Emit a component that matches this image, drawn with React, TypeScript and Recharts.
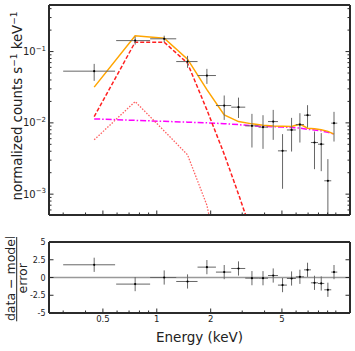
import React from 'react';
import { ComposedChart, Line, Scatter, XAxis, YAxis, ErrorBar, ReferenceLine, Label } from 'recharts';

// spectrum bins (keV)
const energy = [0.447, 0.757, 1.1, 1.485, 1.905, 2.38, 2.86, 3.4, 3.92, 4.47, 5.04, 5.66, 6.3, 6.95, 7.6, 8.29, 9.03, 9.77];
const energyLo = [0.3, 0.593, 0.918, 1.284, 1.689, 2.14, 2.605, 3.12, 3.7, 4.18, 4.75, 5.33, 5.98, 6.64, 7.26, 7.95, 8.62, 9.43];
const energyHi = [0.585, 0.918, 1.284, 1.689, 2.14, 2.605, 3.12, 3.7, 4.18, 4.75, 5.33, 5.98, 6.64, 7.26, 7.95, 8.62, 9.43, 10.19];

// observed counts s^-1 keV^-1
const counts = [0.0531, 0.1425, 0.151, 0.0724, 0.0461, 0.0175, 0.0166, 0.00908, 0.00871, 0.01042, 0.00405, 0.00795, 0.00946, 0.0128, 0.0053, 0.00502, 0.00154, 0.0099];
const countsLo = [0.0388, 0.125, 0.136, 0.0591, 0.0352, 0.011, 0.0117, 0.00451, 0.00432, 0.00578, 0.00119, 0.00396, 0.0053, 0.00859, 0.00224, 0.0021, 0.00052, 0.00547];
const countsHi = [0.0672, 0.162, 0.167, 0.0871, 0.0572, 0.0242, 0.0226, 0.01337, 0.0128, 0.0152, 0.00695, 0.01175, 0.01367, 0.0177, 0.00757, 0.00718, 0.0031, 0.01427];

// model curves
const modelTotal = [0.0317, 0.166, 0.154, 0.0782, 0.0292, 0.01294, 0.01042, 0.00968, 0.00923, 0.00902, 0.00893, 0.00887, 0.00959, 0.00843, 0.00824, 0.00798, 0.0076, 0.00695];
const modelHot = [0.01225, 0.1355, 0.1355, 0.0687, 0.0152, 0.00364, 0.001, 0.00028, 0.00008, 0.00002];
const modelCool = [0.00578, 0.0199, 0.0077, 0.00356, 0.0007, 0.00005, 0.000005];
const modelPow = [0.01137, 0.01084, 0.0105, 0.01023, 0.01, 0.00975, 0.00944, 0.0091, 0.00896, 0.00881, 0.00873, 0.00859, 0.00846, 0.00813, 0.00792, 0.00772, 0.00736, 0.00695];

// (data - model) / error
const residual = [1.79, -0.93, 0.0, -0.56, 1.46, 0.76, 1.27, -0.09, -0.1, 0.28, -1.07, -0.14, 0.1, 1.08, -0.75, -0.84, -1.73, 0.76];

const xTicks = [0.3, 0.4, 0.5, 0.6, 0.7, 0.8, 0.9, 1, 2, 3, 4, 5, 6, 7, 8, 9, 10];
const xMajor = [0.5, 1, 2, 5];
const yTicks = [0.0006, 0.0007, 0.0008, 0.0009, 0.001, 0.002, 0.003, 0.004, 0.005, 0.006, 0.007, 0.008, 0.009,
  0.01, 0.02, 0.03, 0.04, 0.05, 0.06, 0.07, 0.08, 0.09, 0.1, 0.2, 0.3, 0.4];
const yMajor = [0.001, 0.01, 0.1];
const resTicks = [-5, -2.5, 0, 2.5, 5];
const resLabels = ['-5', '-2.5', '0', '2.5', '5'];

const X_DOMAIN = [0.25, 12];
const Y_DOMAIN = [0.00051, 0.45];
const FONT = '"DejaVu Sans", sans-serif';
const FRAME = '#2b2b2b';
const INK = '#222';

const isIn = (list: number[], v: number) => list.some(m => Math.abs(m - v) / Math.abs(m || 1) < 1e-6);

const specData = energy.map((e, i) => ({
    e,
    v: counts[i],
    ex: [e - energyLo[i], energyHi[i] - e],
    ey: [counts[i] - countsLo[i], countsHi[i] - counts[i]],
}));
const resData = energy.map((e, i) => ({ e, v: residual[i], ex: [e - energyLo[i], energyHi[i] - e], ey: 1 }));
const curve = (vals: number[]) => vals.map((v, i) => ({ e: energy[i], v }));

type Side = 'left' | 'right' | 'top' | 'bottom';

// axes get tickSize 0 so (x, y) is the spine point; ticks are drawn inward here
function tickRenderer(side: Side, major: (v: number) => boolean, label?: (v: number, x: number, y: number) => React.ReactNode) {
    return (props: any) => {
        const { x, y, payload } = props;
        const v = payload.value;
        const len = major(v) ? 4.5 : 2.5;
        let x2 = x, y2 = y;
        if (side === 'left') x2 = x + len;
        if (side === 'right') x2 = x - len;
        if (side === 'top') y2 = y + len;
        if (side === 'bottom') y2 = y - len;
        return (
            <g>
                <line x1={x} y1={y} x2={x2} y2={y2} stroke={FRAME} strokeWidth={1} />
                {label ? label(v, x, y) : null}
            </g>
        );
    };
}

const powLabel = (v: number, x: number, y: number) => {
    if (!isIn(yMajor, v)) return null;
    const exp = Math.round(Math.log10(v));
    return (
        <text x={x - 3} y={y + 3.5} textAnchor="end" fontSize={10} fontFamily={FONT} fill={INK}>
            10<tspan dy={-4.5} fontSize={7}>{'\u2212' + Math.abs(exp)}</tspan>
        </text>
    );
};

const resYLabel = (v: number, x: number, y: number) => {
    const i = resTicks.indexOf(v);
    return (
        <text x={x - 3.5} y={y + 3} textAnchor="end" fontSize={8} fontFamily={FONT} fill={INK}>{resLabels[i]}</text>
    );
};

const energyLabel = (v: number, x: number, y: number) => {
    if (!isIn(xMajor, v)) return null;
    return (
        <text x={x} y={y + 8.8} textAnchor="middle" fontSize={8.5} fontFamily={FONT} fill={INK}>{String(v)}</text>
    );
};

const xMaj = (v: number) => isIn(xMajor, v);
const yMaj = (v: number) => isIn(yMajor, v);
const allMaj = () => true;

const axisLine = { stroke: FRAME, strokeWidth: 2 };
const errStroke = '#666';

const dot = (p: any) => <circle cx={p.cx} cy={p.cy} r={1.1} fill="#000" />;

function CountsTitle(props: any) {
    const vb = props.viewBox;
    const cx = vb.x + 21.5;
    const cy = vb.y + vb.height / 2 - 4;
    return (
        <text x={cx} y={cy} transform={`rotate(-90 ${cx} ${cy})`} textAnchor="middle" fontSize={13.3} fontFamily={FONT} fill={INK}>
            normalized counts s<tspan dy={-5} fontSize={9}>{'\u22121'}</tspan>
            <tspan dy={5}>{'\u00a0keV'}</tspan><tspan dy={-5} fontSize={9}>{'\u22121'}</tspan>
        </text>
    );
}

function ResidTitle(props: any) {
    const vb = props.viewBox;
    const cx = 16.7;
    const cy = vb.y + vb.height / 2 + 0.8;
    return (
        <g transform={`rotate(-90 ${cx} ${cy})`} fontFamily={FONT} fill={INK}>
            <text x={cx} y={cy - 2} textAnchor="middle" fontSize={12.5}>data {'\u2212'} model</text>
            <line x1={cx - 43} x2={cx + 43} y1={cy} y2={cy} stroke={INK} strokeWidth={1} />
            <text x={cx} y={cy + 10} textAnchor="middle" fontSize={12.5}>error</text>
        </g>
    );
}

function EnergyTitle(props: any) {
    const vb = props.viewBox;
    return (
        <text x={vb.x + vb.width / 2} y={vb.y + 29} textAnchor="middle" fontSize={13.5} fontFamily={FONT} fill={INK}>
            Energy (keV)
        </text>
    );
}

export default function App() {
    return (
        <div style={{ position: 'absolute', left: 0, top: 0, width: 355, height: 351, background: '#fff' }}>
            <div style={{ position: 'absolute', left: 0, top: 0 }}>
                <ComposedChart width={355} height={220} margin={{ top: 4, right: 4, bottom: 4, left: 0 }}>
                    <XAxis dataKey="e" type="number" scale="log" domain={X_DOMAIN} allowDataOverflow ticks={xTicks} interval={0}
                        height={1} tickSize={0} tickMargin={0} tickLine={false} axisLine={axisLine} tick={tickRenderer('bottom', xMaj)} />
                    <XAxis xAxisId="top" orientation="top" type="number" scale="log" domain={X_DOMAIN} allowDataOverflow ticks={xTicks} interval={0}
                        height={1} tickSize={0} tickMargin={0} tickLine={false} axisLine={axisLine} tick={tickRenderer('top', xMaj)} />
                    <YAxis dataKey="v" type="number" scale="log" domain={Y_DOMAIN} allowDataOverflow ticks={yTicks} interval={0}
                        width={49} tickSize={0} tickMargin={0} tickLine={false} axisLine={axisLine} tick={tickRenderer('left', yMaj, powLabel)}>
                        <Label content={CountsTitle} />
                    </YAxis>
                    <YAxis yAxisId="right" orientation="right" type="number" scale="log" domain={Y_DOMAIN} allowDataOverflow ticks={yTicks} interval={0}
                        width={1} tickSize={0} tickMargin={0} tickLine={false} axisLine={axisLine} tick={tickRenderer('right', yMaj)} />

                    <Line data={curve(modelPow)} dataKey="v" stroke="#ff00ff" strokeWidth={1.5} strokeDasharray="6 2 1.5 2" dot={false} isAnimationActive={false} />
                    <Line data={curve(modelCool)} dataKey="v" stroke="#ff6060" strokeWidth={1.3} strokeDasharray="1.5 1.5" dot={false} isAnimationActive={false} />
                    <Line data={curve(modelHot)} dataKey="v" stroke="#ff2020" strokeWidth={1.5} strokeDasharray="4 2" dot={false} isAnimationActive={false} />
                    <Line data={curve(modelTotal)} dataKey="v" stroke="#ffa500" strokeWidth={1.5} dot={false} isAnimationActive={false} />
                    <Scatter data={specData} dataKey="v" shape={dot} isAnimationActive={false}>
                        <ErrorBar dataKey="ex" direction="x" width={0} stroke={errStroke} strokeWidth={1} isAnimationActive={false} />
                        <ErrorBar dataKey="ey" direction="y" width={0} stroke={errStroke} strokeWidth={1} isAnimationActive={false} />
                    </Scatter>
                </ComposedChart>
            </div>
            <div style={{ position: 'absolute', left: 0, top: 237 }}>
                <ComposedChart width={355} height={114} margin={{ top: 4, right: 4, bottom: 37, left: 0 }}>
                    <XAxis dataKey="e" type="number" scale="log" domain={X_DOMAIN} allowDataOverflow ticks={xTicks} interval={0}
                        height={1} tickSize={0} tickMargin={0} tickLine={false} axisLine={axisLine} tick={tickRenderer('bottom', xMaj, energyLabel)}>
                        <Label content={EnergyTitle} />
                    </XAxis>
                    <XAxis xAxisId="top" orientation="top" type="number" scale="log" domain={X_DOMAIN} allowDataOverflow ticks={xTicks} interval={0}
                        height={1} tickSize={0} tickMargin={0} tickLine={false} axisLine={axisLine} tick={tickRenderer('top', xMaj)} />
                    <YAxis dataKey="v" type="number" domain={[-5, 5]} allowDataOverflow ticks={resTicks} interval={0}
                        width={49} tickSize={0} tickMargin={0} tickLine={false} axisLine={axisLine} tick={tickRenderer('left', allMaj, resYLabel)}>
                        <Label content={ResidTitle} />
                    </YAxis>
                    <YAxis yAxisId="right" orientation="right" type="number" domain={[-5, 5]} allowDataOverflow ticks={resTicks} interval={0}
                        width={1} tickSize={0} tickMargin={0} tickLine={false} axisLine={axisLine} tick={tickRenderer('right', allMaj)} />
                    <ReferenceLine y={0} stroke="#999" strokeWidth={1.5} />
                    <Scatter data={resData} dataKey="v" shape={dot} isAnimationActive={false}>
                        <ErrorBar dataKey="ex" direction="x" width={0} stroke={errStroke} strokeWidth={1} isAnimationActive={false} />
                        <ErrorBar dataKey="ey" direction="y" width={0} stroke={errStroke} strokeWidth={1} isAnimationActive={false} />
                    </Scatter>
                </ComposedChart>
            </div>
        </div>
    );
}
